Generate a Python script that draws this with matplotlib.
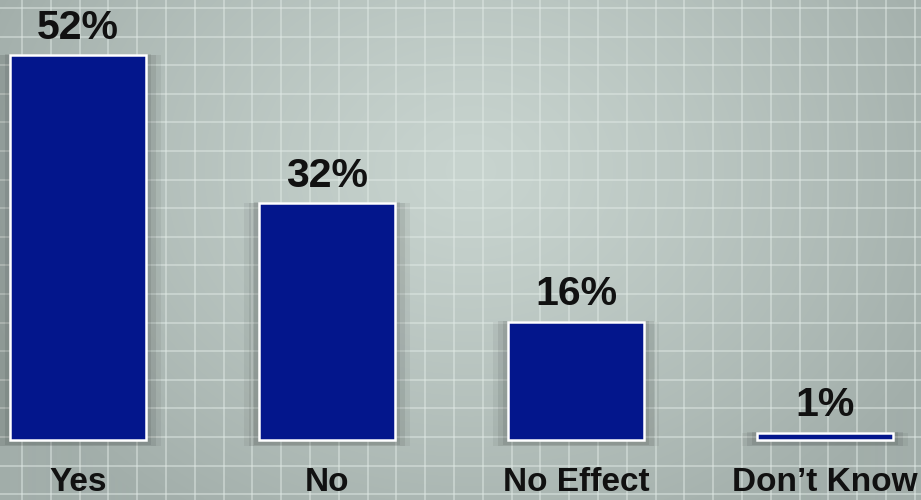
import numpy as np
import matplotlib
matplotlib.use("Agg")
import matplotlib.pyplot as plt

categories = ["Yes", "No", "No Effect", "Don\u2019t Know"]
values = [52, 32, 16, 1]
value_labels = ["52%", "32%", "16%", "1%"]

W, H = 921, 500
fig = plt.figure(figsize=(W / 100, H / 100), dpi=100)

# background with radial gradient and grid
bg = fig.add_axes([0, 0, 1, 1])
yy, xx = np.mgrid[0:H, 0:W]
r = np.sqrt(((xx - 470) / 520.0) ** 2 + ((yy - 170) / 420.0) ** 2)
t = np.clip(r, 0, 1) ** 1.2
c_center = np.array([200, 212, 207]) / 255.0
c_edge = np.array([162, 174, 170]) / 255.0
img = c_center[None, None, :] * (1 - t[..., None]) + c_edge[None, None, :] * t[..., None]
bg.imshow(img, extent=[0, W, H, 0], aspect="auto", zorder=0)
for gx in np.arange(22, W, 28.8):
    bg.axvline(gx, color="#e2ebe7", lw=1.1, alpha=0.6, zorder=1)
for gy in np.arange(8, H, 28.6):
    bg.axhline(gy, color="#e2ebe7", lw=1.1, alpha=0.6, zorder=1)
bg.set_xlim(0, W)
bg.set_ylim(H, 0)
bg.axis("off")

ax = fig.add_axes([0, 0, 1, 1])
ax.patch.set_alpha(0)
x = np.arange(len(categories))
# soft shadow
for xi, v in zip(x, values):
    for k, a in zip([0.12, 0.08, 0.04], [0.05, 0.07, 0.08]):
        ax.bar(xi, v + 0.8, width=0.546 + k, bottom=-0.6 - k * 2, color="black",
               alpha=a, lw=0, zorder=2)
ax.bar(x, values, width=0.546, color="#03168c", edgecolor="white", linewidth=1.8, zorder=3)

for xi, v, lab in zip(x, values, value_labels):
    ax.annotate(lab, (xi, v), xytext=(0, 12), textcoords="offset points",
                ha="center", va="baseline", fontsize=29.5, fontweight="bold",
                family="Liberation Sans", color="#111111", zorder=4)
    ax.text(xi, -5.8, categories[xi], ha="center", va="center", fontsize=24,
            fontweight="bold", family="Liberation Sans", color="#111111", zorder=4)

ax.set_xlim(-78 / 249.0, (W - 78) / 249.0)
ax.set_ylim(-60 / 7.4, 440 / 7.4)
ax.axis("off")

fig.savefig("out.png", dpi=100)
